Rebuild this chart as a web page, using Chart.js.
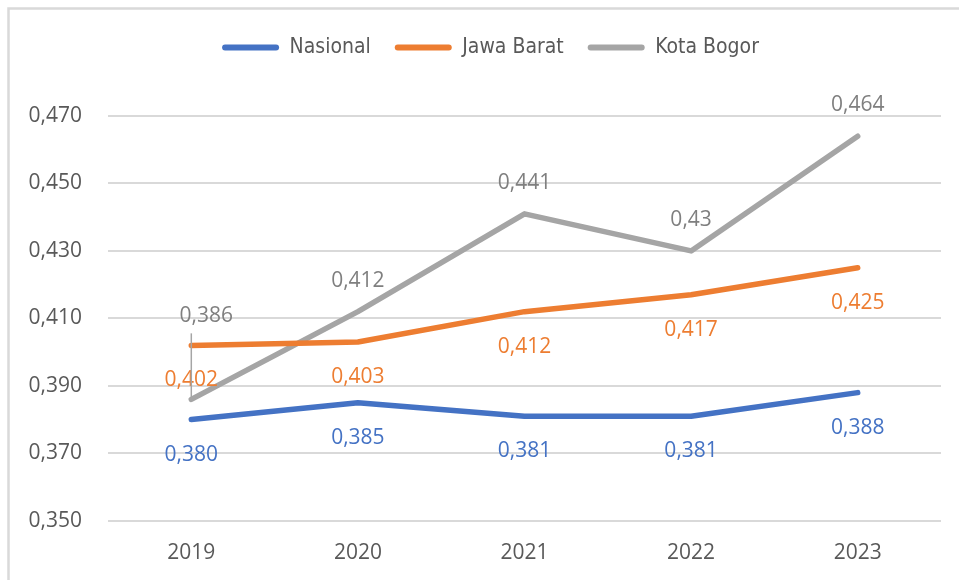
<!DOCTYPE html>
<html lang="id">
<head>
<meta charset="utf-8">
<title>Nasional, Jawa Barat, Kota Bogor 2019-2023</title>
<script src="https://cdn.jsdelivr.net/npm/chart.js"></script>
<style>
  html, body { margin: 0; padding: 0; background: #fff; }
  #wrap { width: 959px; height: 580px; }
</style>
</head>
<body>
<div id="wrap"><canvas id="chart" width="959" height="580"></canvas></div>
<script>
const years = ['2019', '2020', '2021', '2022', '2023'];
const nasional = [0.380, 0.385, 0.381, 0.381, 0.388];
const jawaBarat = [0.402, 0.403, 0.412, 0.417, 0.425];
const kotaBogor = [0.386, 0.412, 0.441, 0.43, 0.464];
const yTicks = [0.350, 0.370, 0.390, 0.410, 0.430, 0.450, 0.470];

const tickFont = { family: '"Open Sans", "Noto Sans", sans-serif', size: 21 };
const legendFont = { family: '"Liberation Sans Narrow", "DejaVu Sans Condensed", sans-serif', size: 21 };

function fmt(v, decimals) {
  const s = decimals ? v.toFixed(decimals) : String(v);
  return s.replace('.', ',');
}

// value labels next to each point, plus the leader line for the moved 2019 label
const pointLabels = {
  id: 'pointLabels',
  afterDatasetsDraw(chart) {
    const ctx = chart.ctx;
    ctx.save();
    ctx.font = tickFont.size + 'px ' + tickFont.family;
    ctx.textAlign = 'center';
    ctx.textBaseline = 'middle';
    chart.data.datasets.forEach((ds, di) => {
      const meta = chart.getDatasetMeta(di);
      meta.data.forEach((pt, i) => {
        const shift = (ds.labelShift && ds.labelShift[i]) || [0, ds.labelDy];
        const lx = pt.x + shift[0], ly = pt.y + shift[1];
        if (ds.labelShift && ds.labelShift[i]) {
          ctx.strokeStyle = '#a5a5a5';
          ctx.lineWidth = 1.5;
          ctx.beginPath();
          ctx.moveTo(pt.x, ly + 17);
          ctx.lineTo(pt.x, pt.y);
          ctx.stroke();
        }
        ctx.fillStyle = ds.labelColor;
        ctx.fillText(fmt(ds.data[i], ds.decimals), lx, ly);
      });
    });
    ctx.restore();
  }
};

// light frame around the chart (only top/left visible in the picture)
const frame = {
  id: 'frame',
  beforeDraw(chart) {
    const ctx = chart.ctx;
    ctx.save();
    ctx.strokeStyle = '#d9d9d9';
    ctx.lineWidth = 2.5;
    ctx.beginPath();
    ctx.moveTo(8.5, chart.height + 5);
    ctx.lineTo(8.5, 8.5);
    ctx.lineTo(chart.width + 5, 8.5);
    ctx.stroke();
    ctx.restore();
  }
};

// leave room between legend and plot area, and nudge the legend right
const legendGap = {
  id: 'legendGap',
  beforeInit(chart) {
    const legend = chart.legend;
    const fit = legend.fit;
    const draw = legend.draw;
    legend.fit = function () {
      fit.call(this);
      this.height += 48;
    };
    legend.draw = function () {
      this.left += 20; this.right += 20;
      draw.call(this);
      this.left -= 20; this.right -= 20;
    };
  }
};

new Chart(document.getElementById('chart'), {
  type: 'line',
  data: {
    labels: years,
    datasets: [
      {
        label: 'Nasional', data: nasional,
        borderColor: '#4472c4', backgroundColor: '#4472c4',
        labelColor: '#4472c4', labelDy: 35, decimals: 3
      },
      {
        label: 'Jawa Barat', data: jawaBarat,
        borderColor: '#ed7d31', backgroundColor: '#ed7d31',
        labelColor: '#ed7d31', labelDy: 35, decimals: 3
      },
      {
        label: 'Kota Bogor', data: kotaBogor,
        borderColor: '#a5a5a5', backgroundColor: '#a5a5a5',
        labelColor: '#7f7f7f', labelDy: -31, decimals: 0,
        labelShift: [[15, -83]]
      }
    ]
  },
  options: {
    responsive: false,
    animation: false,
    layout: { padding: { top: 13, right: 18, left: 0, bottom: 2 } },
    elements: {
      line: { borderWidth: 5.5, tension: 0, borderCapStyle: 'round', borderJoinStyle: 'round' },
      point: { radius: 0, hoverRadius: 0 }
    },
    plugins: {
      legend: {
        position: 'top',
        labels: {
          color: '#595959',
          font: legendFont,
          boxWidth: 57,
          boxHeight: 6,
          padding: 24,
          generateLabels(chart) {
            return chart.data.datasets.map((ds, i) => ({
              text: ds.label,
              fillStyle: ds.borderColor,
              strokeStyle: ds.borderColor,
              lineWidth: 0,
              borderRadius: 3,
              fontColor: '#595959',
              datasetIndex: i
            }));
          }
        }
      },
      tooltip: { enabled: false }
    },
    scales: {
      x: {
        offset: true,
        grid: { display: false, offset: true },
        border: { display: false },
        ticks: { color: '#595959', font: tickFont, padding: 12 }
      },
      y: {
        min: 0.35,
        max: 0.47,
        afterFit(scale) { scale.width = 108; },
        afterBuildTicks(scale) { scale.ticks = yTicks.map(v => ({ value: v })); },
        grid: { color: '#d9d9d9', lineWidth: 2, drawTicks: false },
        border: { display: false },
        ticks: {
          color: '#595959', font: tickFont, padding: 26,
          callback: v => fmt(v, 3)
        }
      }
    }
  },
  plugins: [frame, legendGap, pointLabels]
});
</script>
</body>
</html>
